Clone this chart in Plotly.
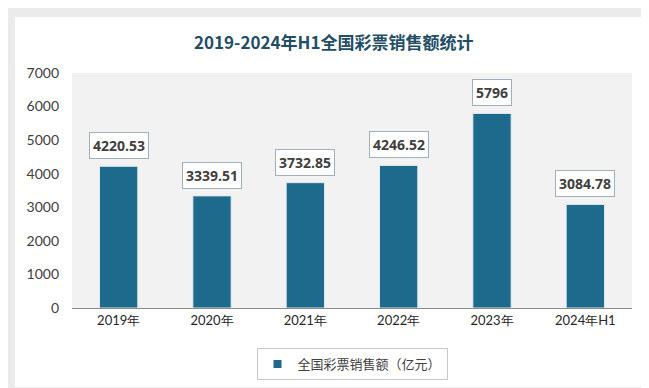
import plotly.graph_objects as go

categories = ["2019年", "2020年", "2021年", "2022年", "2023年", "2024年H1"]
values = [4220.53, 3339.51, 3732.85, 4246.52, 5796, 3084.78]
value_labels = ["4220.53", "3339.51", "3732.85", "4246.52", "5796", "3084.78"]
series_name = "全国彩票销售额（亿元）"
title_text = "2019-2024年H1全国彩票销售额统计"
y_ticks = [0, 1000, 2000, 3000, 4000, 5000, 6000, 7000]

BAR_COLOR = "#1d6a8c"
W, H = 649, 388
ml, mr, mt, mb = 64, 25, 65, 88
pw, ph = W - ml - mr, H - mt - mb

def px_x(x):
    return (x - ml) / pw

def px_y(y):
    return (H - mb - y) / ph

fig = go.Figure()
fig.add_trace(go.Bar(
    x=categories, y=values, name=series_name,
    marker=dict(color=BAR_COLOR, line=dict(color="#dfe8ee", width=1)),
    showlegend=False,
))
# legend entry drawn as a small square, as in the reference
fig.add_trace(go.Scatter(
    x=[categories[0]], y=[None], name=series_name, mode="markers",
    marker=dict(symbol="square", size=8, color=BAR_COLOR),
    showlegend=True, hoverinfo="skip",
))

annotations = []
for c, v, t in zip(categories, values, value_labels):
    annotations.append(dict(
        x=c, y=v, xref="x", yref="y", text="<b>" + t + "</b>", showarrow=False,
        yanchor="bottom", yshift=7,
        font=dict(family="Open Sans, Lato, sans-serif", size=14, color="#404040"),
        bgcolor="white", bordercolor="#9fb0ba", borderwidth=1, borderpad=3,
    ))

annotations.append(dict(
    x=px_x(325), y=px_y(33), xref="paper", yref="paper", text="<b>" + title_text + "</b>",
    showarrow=False, xanchor="center", yanchor="middle",
    font=dict(family="Noto Sans CJK SC", size=17, color="#1f4e66"),
))

shapes = [
    dict(type="rect", xref="paper", yref="paper", x0=px_x(7), x1=px_x(641), y0=px_y(379), y1=px_y(9),
         fillcolor="white", line=dict(width=0), layer="below"),
    dict(type="rect", xref="paper", yref="paper", x0=0, x1=1, y0=0, y1=1,
         fillcolor="#f2f2f2", line=dict(width=0), layer="below"),
]

fig.update_layout(
    width=W, height=H,
    margin=dict(l=ml, r=mr, t=mt, b=mb, autoexpand=False),
    paper_bgcolor="#ebebeb",
    plot_bgcolor="rgba(0,0,0,0)",
    bargap=0.59,
    shapes=shapes,
    annotations=annotations,
    showlegend=True,
    legend=dict(
        orientation="h", x=0.5, y=px_y(340), xanchor="center", yanchor="top",
        bgcolor="white", bordercolor="#c8c8c8", borderwidth=1,
        font=dict(family="Noto Sans CJK SC", size=13, color="#404040"),
        itemwidth=30,
    ),
    xaxis=dict(
        showline=True, linecolor="#8c8c8c", linewidth=1, ticks="",
        tickfont=dict(family="Lato, Open Sans, sans-serif", size=13, color="#262626"),
        showgrid=False, automargin=False,
    ),
    yaxis=dict(
        range=[0, 7000], tickvals=y_ticks, showgrid=False, zeroline=False,
        showline=False, ticks="",
        tickfont=dict(family="Lato, Open Sans, sans-serif", size=14, color="#404040"),
        ticklabelstandoff=12, automargin=False,
    ),
    font=dict(family="Lato, Noto Sans CJK SC, sans-serif"),
)

fig.write_html("out.html")
